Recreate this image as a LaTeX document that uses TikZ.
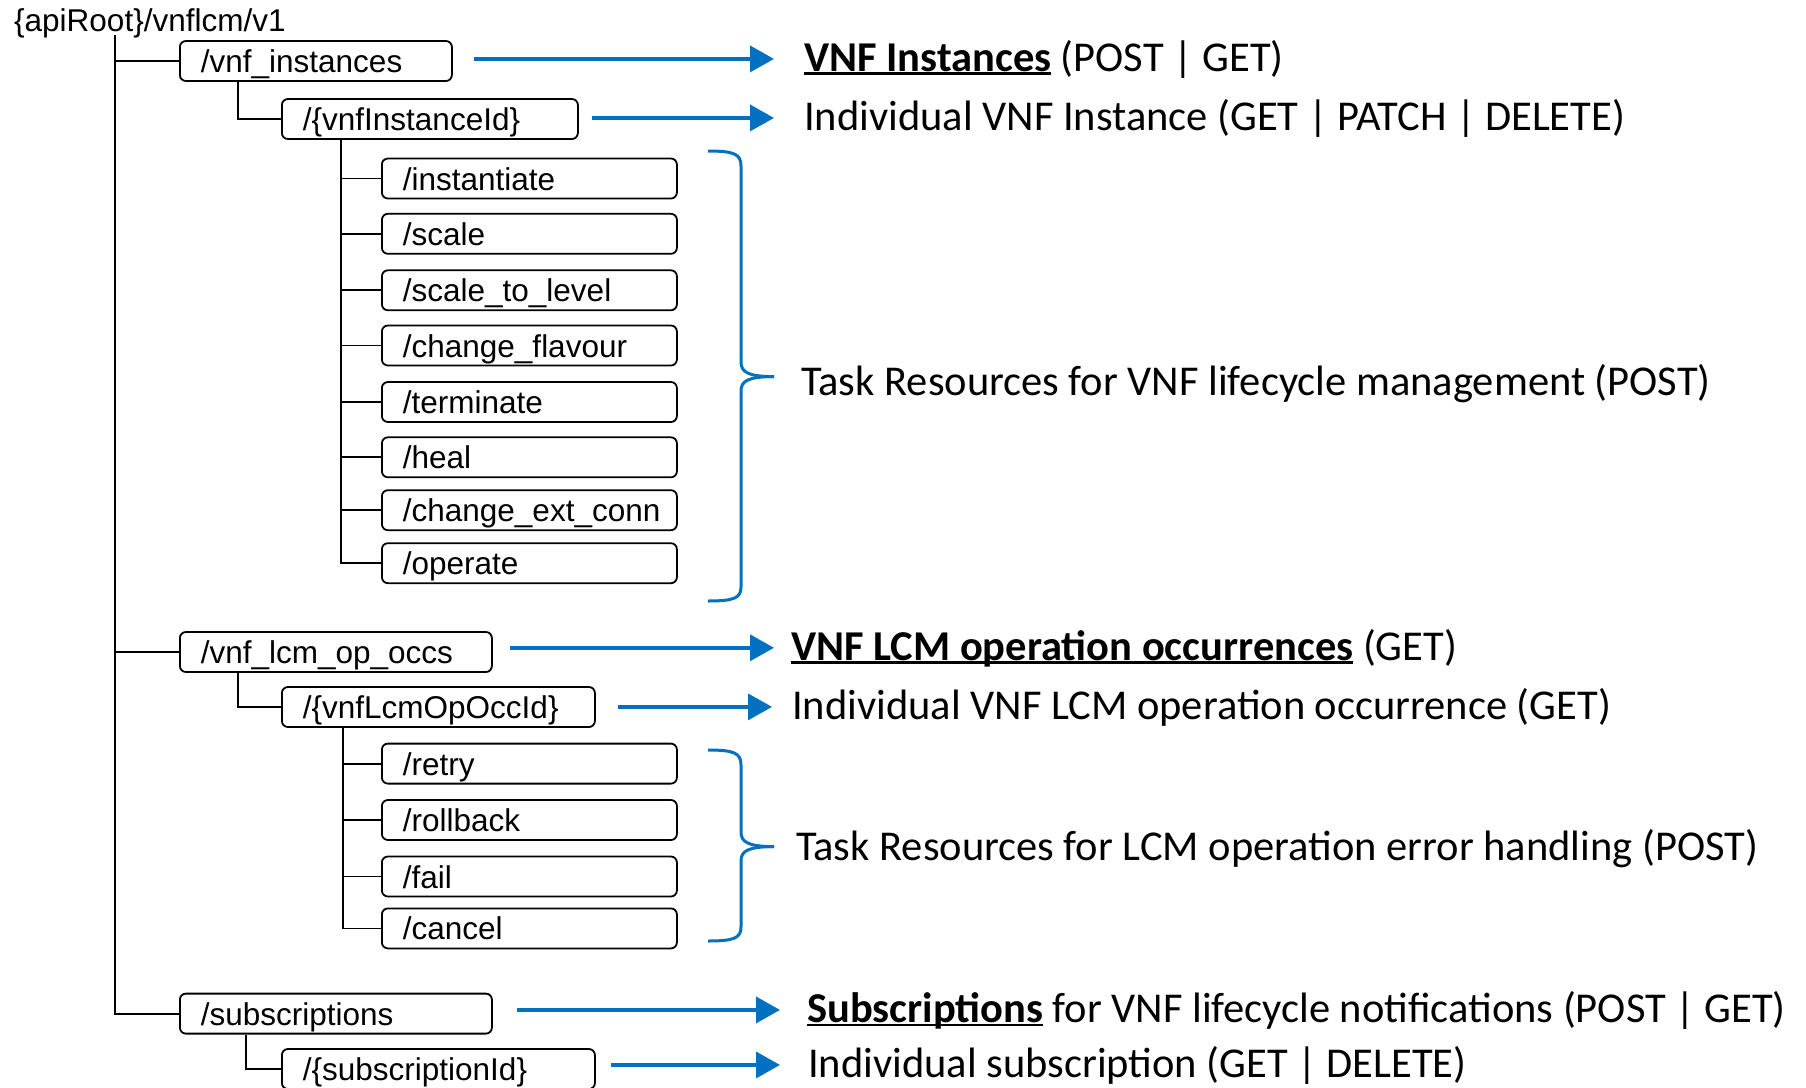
\documentclass[tikz,border=0pt]{standalone}
\usepackage{fontspec}
\setmainfont{Liberation Sans}
\newfontfamily\calfont{Carlito}
\usetikzlibrary{arrows.meta,calc}
\definecolor{ablue}{RGB}{0,112,192}
\newcommand\myul[1]{\setbox0\hbox{#1}\rlap{\rule[-0.1em]{\wd0}{0.065em}}\box0}
\begin{document}
\begin{tikzpicture}[x=1pt,y=-1pt,
  res/.style={draw, line width=1.8pt, rounded corners=6pt, anchor=west,
    minimum height=40pt, inner xsep=21pt, inner ysep=0pt, align=left,
    font=\fontsize{31.5}{36}\selectfont, text height=27pt, text depth=4pt},
  tree/.style={line width=1.8pt},
  lbl/.style={anchor=base west, inner sep=0pt, font=\calfont\fontsize{42.5}{50}\selectfont},
  arr/.style={ablue, line width=3.5pt, -{Triangle[length=24pt,width=26pt]}},
  brace/.style={ablue, line width=3pt}]
\useasboundingbox (0,0) rectangle (1806,1087);

\node[anchor=west, inner sep=0pt, font=\fontsize{31.5}{36}\selectfont] (root) at (14,23) {\{apiRoot\}/vnflcm/v1};

\node[res, text width=230pt] (vi) at (179,61) {/vnf\_instances};
\node[res, text width=254pt] (vid) at (281,119) {/\{vnfInstanceId\}};
\node[res, text width=253pt] (c1) at (381,178.5) {/instantiate};
\node[res, text width=253pt] (c2) at (381,233.8) {/scale};
\node[res, text width=253pt] (c3) at (381,290.3) {/scale\_to\_level};
\node[res, text width=253pt] (c4) at (381,345.5) {/change\_flavour};
\node[res, text width=253pt] (c5) at (381,402) {/terminate};
\node[res, text width=253pt] (c6) at (381,457.3) {/heal};
\node[res, text width=253pt] (c7) at (381,510.2) {/change\_ext\_conn};
\node[res, text width=253pt] (c8) at (381,563.2) {/operate};

\node[res, text width=270pt] (lcm) at (179,652) {/vnf\_lcm\_op\_occs};
\node[res, text width=271pt] (lcmid) at (281,707) {/\{vnfLcmOpOccId\}};
\node[res, text width=253pt] (d1) at (381,763.6) {/retry};
\node[res, text width=253pt] (d2) at (381,820) {/rollback};
\node[res, text width=253pt] (d3) at (381,876.5) {/fail};
\node[res, text width=253pt] (d4) at (381,928.4) {/cancel};

\node[res, text width=270pt] (sub) at (179,1013.6) {/subscriptions};
\node[res, text width=271pt] (subid) at (281,1069) {/\{subscriptionId\}};

% tree lines
\coordinate (trunk) at (115,35);
\draw[tree] (trunk) |- (sub.west);
\draw[tree] (trunk |- vi.west) -- (vi.west);
\draw[tree] (trunk |- lcm.west) -- (lcm.west);
\draw[tree] ($(vi.south west)+(59,0)$) |- (vid.west);
\draw[tree] ($(lcm.south west)+(59,0)$) |- (lcmid.west);
\draw[tree] ($(sub.south west)+(67,0)$) |- (subid.west);
\coordinate (vx) at ($(vid.south west)+(60,0)$);
\draw[tree] (vx) |- (c8.west);
\foreach \n in {c1,c2,c3,c4,c5,c6,c7}{\draw[tree] (vx |- \n.west) -- (\n.west);}
\coordinate (lx) at ($(lcmid.south west)+(62,0)$);
\draw[tree] (lx) |- (d4.west);
\foreach \n in {d1,d2,d3}{\draw[tree] (lx |- \n.west) -- (\n.west);}

% labels
\node[lbl] (t1) at (804,71) {\bfseries\myul{VNF Instances}\mdseries{} (POST | GET)};
\node[lbl] (t2) at (804,130) {Individual VNF Instance (GET | PATCH | DELETE)};
\node[lbl] (t3) at (791,660) {\bfseries\myul{VNF LCM operation occurrences}\mdseries{} (GET)};
\node[lbl] (t4) at (792,719) {Individual VNF LCM operation occurrence (GET)};
\node[lbl] (t5) at (807,1022) {\bfseries\myul{Subscriptions}\mdseries{} for VNF lifecycle notifications (POST | GET)};
\node[lbl] (t6) at (808,1077) {Individual subscription (GET | DELETE)};
\node[lbl] (g1) at (801,395) {Task Resources for VNF lifecycle management (POST)};
\node[lbl] (g2) at (796,860) {Task Resources for LCM operation error handling (POST)};

% arrows
\draw[arr] ($(vi.east |- t1.west)+(21,0)$) -- ($(t1.west)+(-30,0)$);
\draw[arr] ($(vid.east |- t2.west)+(13,0)$) -- ($(t2.west)+(-30,0)$);
\draw[arr] ($(lcm.east |- t3.west)+(17,0)$) -- ($(t3.west)+(-17,0)$);
\draw[arr] ($(lcmid.east |- t4.west)+(22,0)$) -- ($(t4.west)+(-20,0)$);
\draw[arr] ($(sub.east |- t5.west)+(24,0)$) -- ($(t5.west)+(-27,0)$);
\draw[arr] ($(subid.east |- t6.west)+(15,0)$) -- ($(t6.west)+(-28,0)$);

% braces
\draw[brace] (708,151) .. controls (734,151) and (741,154) .. (741,166) -- (741,362)
  .. controls (741,372) and (748,376.6) .. (774,376.6);
\draw[brace] (774,376.6) .. controls (748,376.6) and (741,381) .. (741,391) -- (741,587)
  .. controls (741,598) and (734,601) .. (708,601);
\draw[brace] (708,750) .. controls (734,750) and (741,753) .. (741,765) -- (741,832)
  .. controls (741,842) and (748,846.6) .. (774,846.6);
\draw[brace] (774,846.6) .. controls (748,846.6) and (741,851) .. (741,861) -- (741,927)
  .. controls (741,938) and (734,941) .. (708,941);
\end{tikzpicture}
\end{document}
